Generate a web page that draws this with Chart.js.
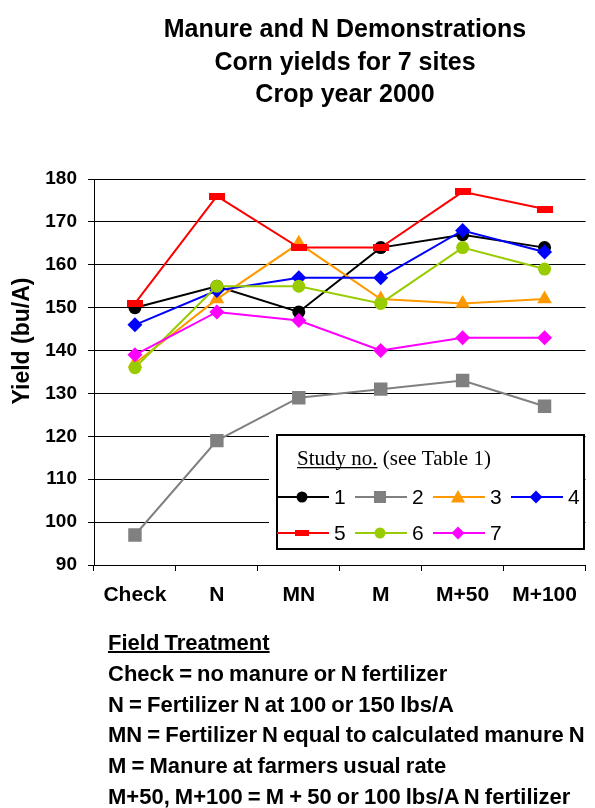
<!DOCTYPE html>
<html>
<head>
<meta charset="utf-8">
<title>Manure and N Demonstrations</title>
<script src="https://cdn.jsdelivr.net/npm/chart.js@4.4.1/dist/chart.umd.min.js"></script>
<style>

    body {
        margin: 0;
        background: #ffffff;
    }

    #page {
        position: relative;
        width: 595px;
        height: 808px;
        font-family: Arial, "Liberation Sans", sans-serif;
        color: #000000;
    }

    #yieldChart {
        position: absolute;
        left: 0;
        top: 0;
    }

    .chart-title {
        position: absolute;
        left: 95px;
        top: 12px;
        width: 500px;
        text-align: center;
        font-weight: bold;
        font-size: 25px;
        line-height: 32.5px;
    }

    .y-title {
        position: absolute;
        left: -79px;
        top: 328px;
        width: 200px;
        text-align: center;
        font-weight: bold;
        font-size: 23px;
        line-height: 26px;
        transform: rotate(-90deg);
    }

    .notes {
        position: absolute;
        left: 108px;
        top: 628px;
        font-weight: bold;
        font-size: 22px;
        line-height: 30.8px;
        word-spacing: -1px;
        white-space: nowrap;
    }

    .notes u {
        text-decoration-thickness: 2px;
    }

</style>
</head>
<body>

<div id="page">

    <canvas id="yieldChart" width="595" height="808"></canvas>

    <div class="chart-title">
        Manure and N Demonstrations<br>
        Corn yields for 7 sites<br>
        Crop year 2000
    </div>

    <div class="y-title">Yield (bu/A)</div>

    <div class="notes">
        <u>Field Treatment</u><br>
        Check = no manure or N fertilizer<br>
        N = Fertilizer N at 100 or 150 lbs/A<br>
        MN = Fertilizer N equal to calculated manure N<br>
        M = Manure at farmers usual rate<br>
        M+50, M+100 = M + 50 or 100 lbs/A N fertilizer
    </div>

</div>

<script>

// ---------------------------
// Data (bu/A)
// ---------------------------

const treatments = ["Check", "N", "MN", "M", "M+50", "M+100"];

const studyNames = ["1", "2", "3", "4", "5", "6", "7"];

const study1 = [150, 155, 149, 164, 167, 164];
const study2 = [97, 119, 129, 131, 133, 127];
const study3 = [137, 152, 165, 152, 151, 152];
const study4 = [146, 154, 157, 157, 168, 163];
const study5 = [151, 176, 164, 164, 177, 173];
const study6 = [136, 155, 155, 151, 164, 159];
const study7 = [139, 149, 147, 140, 143, 143];

const yTicks = [90, 100, 110, 120, 130, 140, 150, 160, 170, 180];


// ---------------------------
// Marker styles
// ---------------------------

// flat red bar marker used for study 5
function barMarker(w, h, color) {

    const c = document.createElement("canvas");
    c.width = w;
    c.height = h;

    const g = c.getContext("2d");
    g.fillStyle = color;
    g.fillRect(0, 0, w, h);

    return c;

}

const seriesStyle = [
    { color: "#000000", point: "circle",   radius: 6.5 },
    { color: "#808080", point: "rect",     radius: 9.5 },
    { color: "#FF9900", point: "triangle", radius: 8.5 },
    { color: "#0000FF", point: "rectRot",  radius: 7.5 },
    { color: "#FF0000", point: barMarker(16, 7, "#FF0000"), radius: 7 },
    { color: "#99CC00", point: "circle",   radius: 6.5 },
    { color: "#FF00FF", point: "rectRot",  radius: 7.5 }
];

const seriesData = [study1, study2, study3, study4, study5, study6, study7];

const datasets = seriesData.map(function (values, i) {

    const s = seriesStyle[i];

    return {
        label: studyNames[i],
        data: values,
        borderColor: s.color,
        backgroundColor: s.color,
        borderWidth: 2,
        pointStyle: s.point,
        pointRadius: s.radius,
        pointBackgroundColor: s.color,
        pointBorderColor: s.color,
        pointBorderWidth: 0,
        tension: 0,
        fill: false,
        // later studies sit on top, like the original
        order: seriesData.length - i
    };

});


// ---------------------------
// Boxed legend inside the plot
// ---------------------------

function legendMarker(ctx, kind, x, y, color) {

    ctx.fillStyle = color;
    ctx.beginPath();

    if (kind === "circle") {
        ctx.arc(x, y, 5.5, 0, Math.PI * 2);
    } else if (kind === "rect") {
        ctx.rect(x - 6, y - 6, 12, 12);
    } else if (kind === "triangle") {
        ctx.moveTo(x, y - 7);
        ctx.lineTo(x + 7, y + 5.5);
        ctx.lineTo(x - 7, y + 5.5);
        ctx.closePath();
    } else if (kind === "rectRot") {
        ctx.moveTo(x, y - 6.5);
        ctx.lineTo(x + 6.5, y);
        ctx.lineTo(x, y + 6.5);
        ctx.lineTo(x - 6.5, y);
        ctx.closePath();
    } else {
        ctx.rect(x - 7, y - 3, 14, 6);
    }

    ctx.fill();

}

const studyLegend = {

    id: "studyLegend",

    afterDraw(chart) {

        const ctx = chart.ctx;

        ctx.save();

        ctx.fillStyle = "#ffffff";
        ctx.fillRect(269, 434, 316, 116);

        ctx.lineWidth = 2;
        ctx.strokeStyle = "#000000";
        ctx.strokeRect(277, 435, 307, 114);

        // heading
        ctx.fillStyle = "#000000";
        ctx.textBaseline = "alphabetic";
        ctx.textAlign = "left";
        ctx.font = "21px 'Liberation Serif', 'Times New Roman', serif";

        const head = "Study no.";
        const headW = ctx.measureText(head).width;

        ctx.fillText(head, 297, 465);
        ctx.fillRect(297, 467, headW, 1.3);
        ctx.fillText(" (see Table 1)", 297 + headW, 465);

        // entries, four per row
        const colX = [277, 355, 433, 511];
        const rowY = [497, 533];

        ctx.font = "21px Arial, 'Liberation Sans', sans-serif";
        ctx.textBaseline = "middle";

        chart.data.datasets.forEach(function (ds, i) {

            const x0 = colX[i % 4];
            const y = rowY[Math.floor(i / 4)];
            const kind = typeof ds.pointStyle === "string" ? ds.pointStyle : "bar";

            ctx.strokeStyle = ds.borderColor;
            ctx.lineWidth = 2;
            ctx.beginPath();
            ctx.moveTo(x0, y);
            ctx.lineTo(x0 + 52, y);
            ctx.stroke();

            legendMarker(ctx, kind, x0 + 25, y, ds.borderColor);

            ctx.fillStyle = "#000000";
            ctx.fillText(ds.label, x0 + 57, y + 1);

        });

        ctx.restore();

    }

};


// ---------------------------
// Chart
// ---------------------------

const yieldCanvas = document.getElementById("yieldChart");

new Chart(yieldCanvas, {

    type: "line",

    data: {

        labels: treatments,

        datasets: datasets

    },

    options: {

        responsive: false,
        animation: false,
        devicePixelRatio: 1,

        layout: {
            padding: { top: 179, left: 0, right: 6, bottom: 193 }
        },

        plugins: {
            legend: { display: false },
            tooltip: { enabled: false }
        },

        scales: {

            x: {
                offset: true,
                afterFit: function (scale) { scale.height = 50; },
                grid: {
                    offset: true,
                    drawOnChartArea: false,
                    drawTicks: true,
                    tickLength: 6,
                    color: "#000000"
                },
                border: { color: "#000000", width: 1 },
                ticks: {
                    color: "#000000",
                    padding: 12,
                    maxRotation: 0,
                    font: { family: "Arial, 'Liberation Sans', sans-serif", size: 21, weight: "bold" }
                }
            },

            y: {
                min: yTicks[0],
                max: yTicks[yTicks.length - 1],
                afterFit: function (scale) { scale.width = 94; },
                afterBuildTicks: function (scale) {
                    scale.ticks = yTicks.map(function (v) { return { value: v }; });
                },
                grid: {
                    color: "#000000",
                    lineWidth: 1,
                    tickLength: 6
                },
                border: { color: "#000000", width: 1 },
                ticks: {
                    color: "#000000",
                    padding: 11,
                    font: { family: "Arial, 'Liberation Sans', sans-serif", size: 19, weight: "bold" }
                }
            }

        }

    },

    plugins: [studyLegend]

});

</script>

</body>
</html>
